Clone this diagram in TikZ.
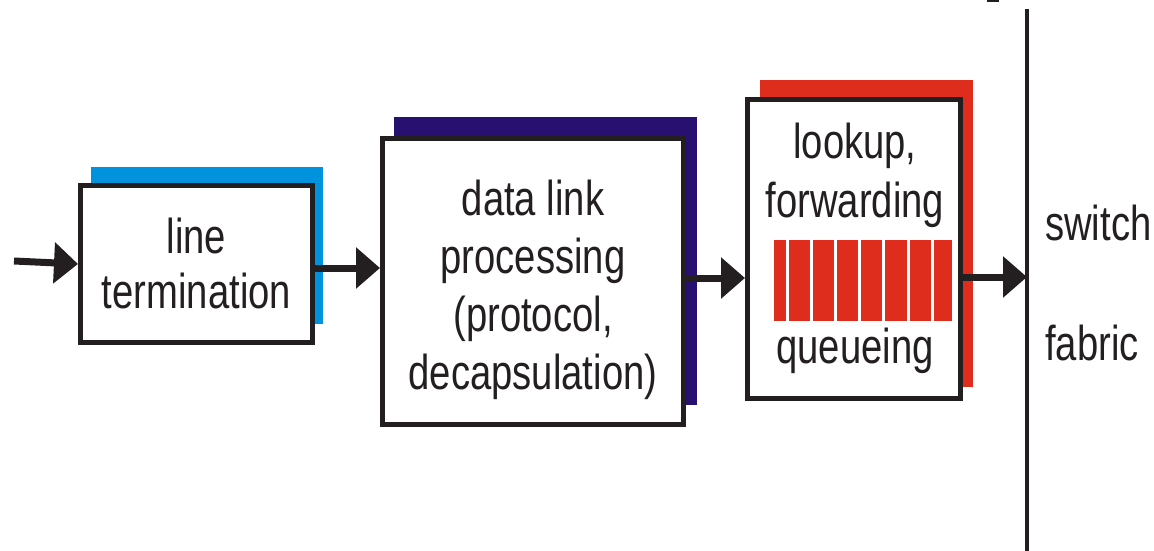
\documentclass[tikz,border=0pt]{standalone}
\usepackage{fontspec}
\setmainfont[FakeStretch=0.78]{Liberation Sans}
\usetikzlibrary{arrows.meta,calc}
\definecolor{ink}{RGB}{35,31,32}
\definecolor{termblue}{RGB}{0,146,221}
\definecolor{linkindigo}{RGB}{40,16,112}
\definecolor{fwdred}{RGB}{222,45,28}
\begin{document}
\begin{tikzpicture}[x=1pt,y=-1pt,
  stage/.style={draw=ink, line width=5pt, fill=white, inner sep=0pt},
  lbl/.style={text=ink, align=center, inner sep=0pt, anchor=base},
  flow/.style={draw=ink, line width=7pt, -{Triangle[length=24pt,width=40pt]}},
]
\useasboundingbox (0,0) rectangle (1154,551);

% coloured backing plates
\fill[termblue]   (91,167)  rectangle (323,324);
\fill[linkindigo] (394,117) rectangle (697,405);
\fill[fwdred]     (760,80)  rectangle (973,387);

% processing stages
\node[stage, minimum width=232pt, minimum height=157pt] (lt) at (196.5,264) {};
\node[stage, minimum width=301pt, minimum height=286pt] (dl) at (533,281.5) {};
\node[stage, minimum width=213pt, minimum height=299pt] (lf) at (854,249) {};

% stage labels (placed by the baseline of their last line)
\node[lbl, font=\fontsize{49}{55}\selectfont] (ltlabel) at (196.5,308) {line\\termination};
\node[lbl, font=\fontsize{49}{58}\selectfont] (dllabel) at (533,389) {data link\\processing\\(protocol,\\decapsulation)};
\node[lbl, font=\fontsize{49}{59}\selectfont] (lflabel) at (855,217) {lookup,\\forwarding};
\node[lbl, font=\fontsize{49}{59}\selectfont] (qlabel) at (855,363) {queueing};

% queue slots
\foreach \a/\b in {774/785.5, 788.5/809.5, 812.5/833.5, 836.5/857.5, 860.5/882, 885/906.5, 909.5/930.5, 933.5/952}
  \fill[fwdred] (\a,240) rectangle (\b,321);

% switch fabric
\coordinate (fabtop) at (1027,9);
\coordinate (fabbot) at (1027,551);
\draw[ink, line width=4pt] (fabtop) -- (fabbot);
\fill[ink] (987,0) rectangle (999,2.5);
\node[text=ink, inner sep=0pt, anchor=base west, font=\fontsize{49}{55}\selectfont] (swlabel) at (1045,240) {switch};
\node[text=ink, inner sep=0pt, anchor=base west, font=\fontsize{49}{55}\selectfont] (fablabel) at (1045,360) {fabric};

% data path
\coordinate (src) at (14,261);
\coordinate (a2) at ([yshift=-4pt]lt.east);
\coordinate (a3) at ([yshift=3.5pt]dl.east);
\coordinate (a4) at ([yshift=-28pt]lf.east);
\draw[flow] (src) -- (lt.west);
\draw[flow] (a2) -- (a2 -| dl.west);
\draw[flow] (a3) -- (a3 -| lf.west);
\draw[flow] (a4) -- (a4 -| fabtop);
\end{tikzpicture}
\end{document}
